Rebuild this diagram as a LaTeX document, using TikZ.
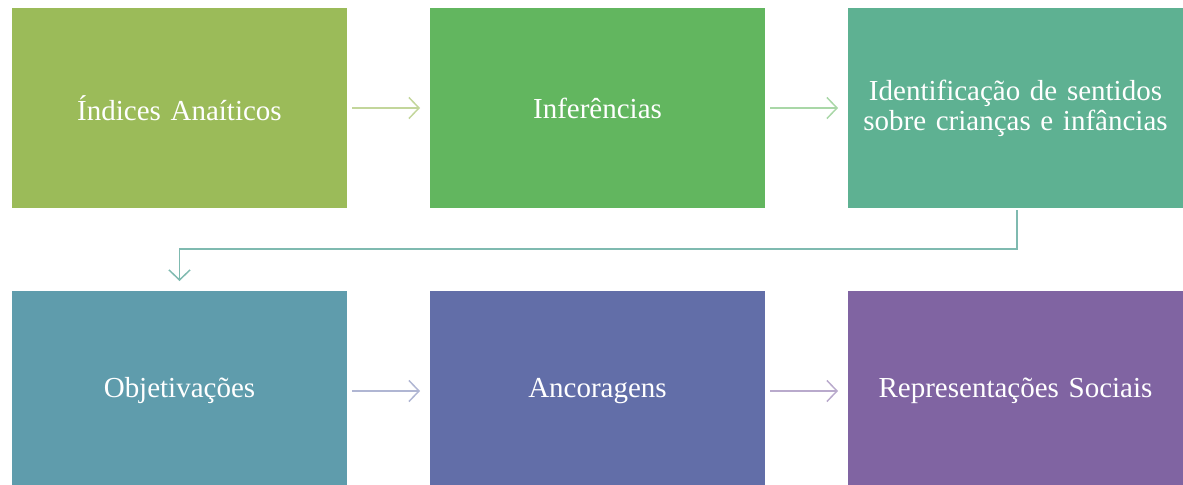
\documentclass[tikz,border=0pt]{standalone}
\usepackage{fontspec}
\setmainfont{Liberation Serif}
\usetikzlibrary{arrows.meta,positioning}
\definecolor{cIndices}{HTML}{9BBB59}
\definecolor{cInfer}{HTML}{62B65F}
\definecolor{cIdent}{HTML}{5EB192}
\definecolor{cObj}{HTML}{5F9CAC}
\definecolor{cAnc}{HTML}{626EA8}
\definecolor{cRep}{HTML}{8064A2}
\tikzstyle{block} = [rectangle, draw=none, text=white, text width=6.3cm, align=center,
    inner xsep=0.2cm, inner ysep=0pt, outer sep=0pt, minimum width=6.7cm, minimum height=4cm,
    font=\fontsize{16.5}{17}\selectfont]
\tikzstyle{line} = [draw, line width=0.85pt, -{Straight Barb[length=0.2cm, width=0.42cm]},
    shorten <=0.1cm, shorten >=0.2cm]

\begin{document}
\begin{tikzpicture}[node distance = 1.66cm]
    \useasboundingbox (0,0) rectangle (23.66,-9.7);
    \clip (0,0) rectangle (23.66,-9.7);
    % Place nodes
    \node [block, fill=cIndices] at (3.59,-2.16) (indices) {Índices Anaíticos};
    \node [block, fill=cInfer, right=of indices] (infer) {Inferências};
    \node [block, fill=cIdent, right=of infer] (ident) {Identificação de sentidos sobre crianças e infâncias};
    \node [block, fill=cObj, below=of indices] (obj) {Objetivações};
    \node [block, fill=cAnc, right=of obj] (anc) {Ancoragens};
    \node [block, fill=cRep, right=of anc] (rep) {Representações Sociais};
    % Draw edges
    \path [line, color=cIndices!60] (indices) -- (infer);
    \path [line, color=cInfer!55] (infer) -- (ident);
    \path [line, color=cIdent!60!cObj!80, shorten <=0.04cm] ([xshift=0.03cm]ident.south) -- ([xshift=0.03cm, yshift=-0.82cm]ident.south) -| (obj.north);
    \path [line, color=cAnc!50] (obj) -- (anc);
    \path [line, color=cRep!55] (anc) -- (rep);
\end{tikzpicture}
\end{document}
